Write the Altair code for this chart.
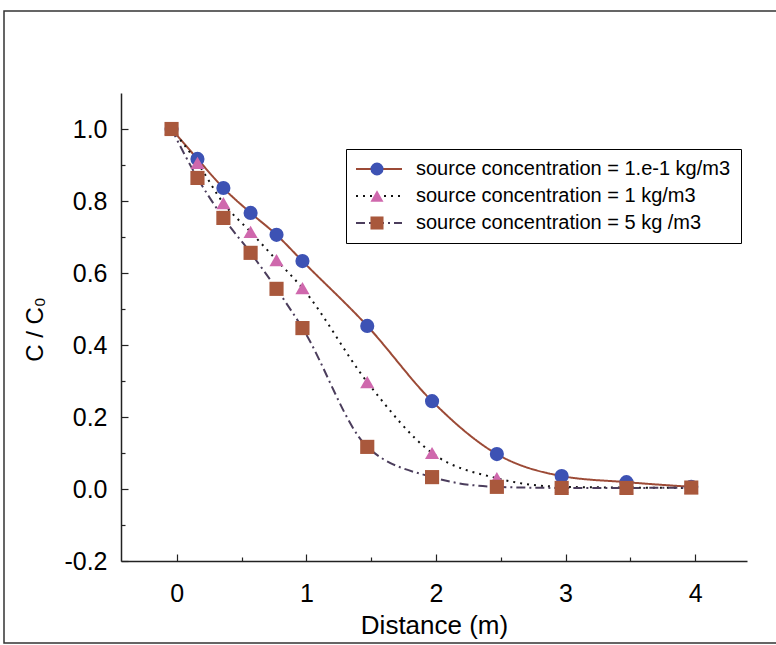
import altair as alt
import pandas as pd

# ---- data ----
distance = [-0.04, 0.16, 0.36, 0.57, 0.77, 0.97, 1.47, 1.97, 2.47, 2.97, 3.47, 3.97]
series_names = [
    "source concentration = 1.e-1 kg/m3",
    "source concentration = 1 kg/m3",
    "source concentration = 5 kg /m3",
]
ratio_low = [1.0, 0.917, 0.836, 0.767, 0.706, 0.633, 0.453, 0.244, 0.097, 0.036, 0.019, 0.006]
ratio_mid = [1.0, 0.906, 0.794, 0.714, 0.636, 0.558, 0.297, 0.100, 0.030, 0.006, 0.004, 0.003]
ratio_high = [1.0, 0.864, 0.753, 0.656, 0.556, 0.447, 0.117, 0.033, 0.006, 0.003, 0.003, 0.004]

x_ticks = [0, 0.5, 1, 1.5, 2, 2.5, 3, 3.5, 4]
x_labels = [0, 1, 2, 3, 4]
y_ticks = [-0.2, -0.1, 0.0, 0.1, 0.2, 0.3, 0.4, 0.5, 0.6, 0.7, 0.8, 0.9, 1.0]
y_labels = [-0.2, 0.0, 0.2, 0.4, 0.6, 0.8, 1.0]

line_colors = ["#9c4a36", "#111111", "#4b3d5c"]
line_dashes = [[1, 0], [2, 5], [9, 4, 2, 4]]
marker_colors = ["#3d52b4", "#cf68ad", "#a9583c"]
marker_shapes = ["circle", "triangle-up", "square"]

rows = []
for name, vals in zip(series_names, [ratio_low, ratio_mid, ratio_high]):
    for d, v in zip(distance, vals):
        rows.append({"series": name, "distance": d, "ratio": v})
df = pd.DataFrame(rows)

W, H = 626, 468
FONT = "Liberation Sans"

xs = alt.Scale(domain=[-0.43, 4.4], nice=False, zero=False)
ys = alt.Scale(domain=[-0.2, 1.1], nice=False, zero=False)

legend_lines = alt.Legend(
    orient="none", legendX=234, legendY=66, title=None, symbolType="stroke",
    symbolSize=2116, symbolStrokeWidth=2, labelExpr="''", labelFontSize=20,
    labelFont=FONT, padding=0, rowPadding=7, clipHeight=20,
)
legend_marks = alt.Legend(
    orient="none", legendX=225, legendY=56, title=None, symbolSize=170,
    symbolStrokeWidth=0, labelFontSize=20, labelFont=FONT, labelColor="black",
    labelLimit=500, padding=10, rowPadding=7, clipHeight=20, strokeColor="black",
    symbolOffset=11, labelOffset=29, symbolOpacity=1,
)

y_label_expr = ("datum.value < 0 ? '-' + format(-datum.value, '.1f') "
                ": format(datum.value, '.1f')")

lines = alt.Chart(df).mark_line(interpolate="monotone", strokeWidth=2).encode(
    x=alt.X("distance:Q", scale=xs, axis=alt.Axis(
        orient="bottom", values=x_labels, ticks=False, grid=False, format="d",
        title="Distance (m)", labelPadding=20, labelFontSize=25, labelFont=FONT,
        labelColor="black", titleFontSize=26, titleFont=FONT, titleFontWeight="normal",
        titleColor="black", titleX=W / 2, titleY=64, titleBaseline="middle",
        domainColor="#222", domainWidth=1.5)),
    y=alt.Y("ratio:Q", scale=ys, axis=alt.Axis(
        orient="left", values=y_labels, ticks=False, grid=False,
        labelExpr=y_label_expr,
        title="C / C₀", labelPadding=14, labelFontSize=25, labelFont=FONT,
        labelColor="black", titleFontSize=24, titleFont=FONT, titleFontWeight="normal",
        titleColor="black", titleX=-86, titleY=236, titleAngle=270,
        titleBaseline="middle", titleAlign="center",
        domainColor="#222", domainWidth=1.5)),
    stroke=alt.Stroke("series:N", scale=alt.Scale(domain=series_names, range=line_colors),
                      legend=legend_lines),
    strokeDash=alt.StrokeDash("series:N", scale=alt.Scale(domain=series_names, range=line_dashes),
                              legend=legend_lines),
)

points = alt.Chart(df).mark_point(filled=True, size=200, opacity=1).encode(
    x=alt.X("distance:Q", scale=xs, axis=alt.Axis(
        orient="top", offset=-H, values=x_ticks, labels=False, domain=False, grid=False,
        title=None, tickColor="#222", tickWidth=1.2,
        tickSize={"condition": {"test": "datum.value % 1 === 0", "value": 7}, "value": 4})),
    y=alt.Y("ratio:Q", scale=ys, axis=alt.Axis(
        orient="right", offset=-W, values=y_ticks, labels=False, domain=False, grid=False,
        title=None, tickColor="#222", tickWidth=1.2,
        tickSize={"condition": {"test": "abs(round(datum.value * 10)) % 2 === 0", "value": 7}, "value": 4})),
    fill=alt.Fill("series:N", scale=alt.Scale(domain=series_names, range=marker_colors),
                  legend=legend_marks),
    shape=alt.Shape("series:N", scale=alt.Scale(domain=series_names, range=marker_shapes),
                    legend=legend_marks),
)

frame = alt.Chart(pd.DataFrame({"k": [0]})).mark_rect(
    fillOpacity=0, stroke="#333", strokeWidth=1.5
).encode(x=alt.value(-117), x2=alt.value(680), y=alt.value(-82), y2=alt.value(550))

chart = alt.layer(frame, lines, points).resolve_axis(
    x="independent", y="independent"
).resolve_legend(
    stroke="independent", strokeDash="independent", fill="independent", shape="independent"
).properties(
    width=W, height=H,
    autosize=alt.AutoSizeParams(type="none"),
    padding={"left": 121, "top": 93, "right": 29, "bottom": 84},
    background="white",
).configure_view(stroke=None)

chart.save("out.html", embed_options={"renderer": "svg", "actions": False})
